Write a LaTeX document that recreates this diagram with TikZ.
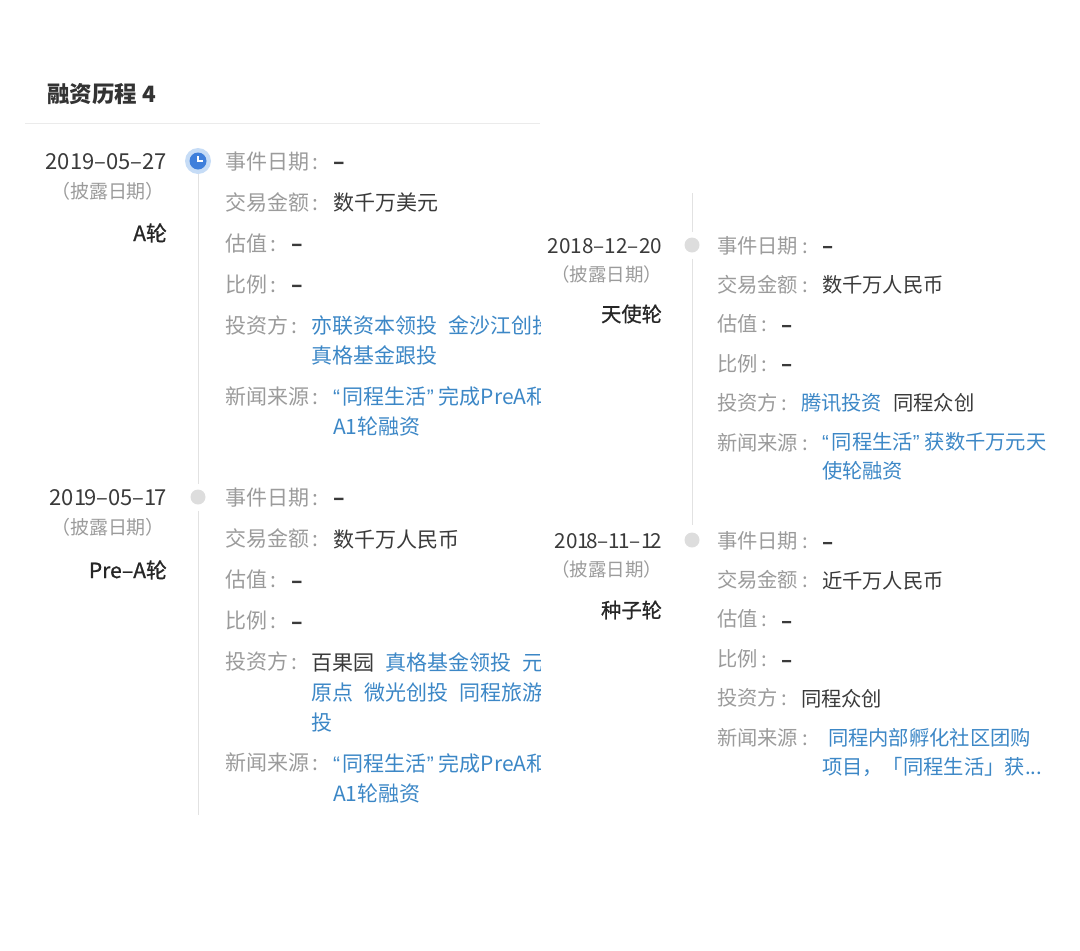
\documentclass[tikz,border=0pt]{standalone}
\usepackage{fontspec}
\setmainfont{Noto Sans CJK SC}
\newfontfamily\medfont[FakeBold=0.8]{Noto Sans CJK SC}
\newfontfamily\quotefont{Liberation Sans}
\usetikzlibrary{positioning}
\definecolor{keygray}{HTML}{9B9B9B}
\definecolor{valdark}{HTML}{3A3A3A}
\definecolor{linkblue}{HTML}{3C87C6}
\definecolor{railgray}{HTML}{E2E2E2}
\definecolor{dotgray}{HTML}{DDDDDD}
\definecolor{clockblue}{HTML}{3F7FDB}
\definecolor{haloblue}{HTML}{C6DCF6}
\newcommand{\qopen}{{\quotefont “}\kern3pt}
\newcommand{\qclose}{{\quotefont ”}\kern5pt}
\newcommand{\kcolon}{\kern4pt:}
\newcommand{\nodash}{{\bfseries –}}

\begin{document}
\begin{tikzpicture}[
    x=1pt, y=-1pt,
    every node/.style={inner sep=0pt, outer sep=0pt},
    rowtext/.style={anchor=west, text height=18.5pt, text depth=2.5pt},
    under/.style={below=#1, anchor=north west},
    lsize/.style={font=\fontsize{21}{21}\selectfont},
    rsize/.style={font=\fontsize{20.3}{20.3}\selectfont},
    keytext/.style={rowtext, text=keygray},
    valtext/.style={rowtext, text=valdark},
    linktext/.style={rowtext, text=linkblue},
    datetext/.style={anchor=east, text=valdark, text height=18pt, text depth=2pt},
    subtext/.style={anchor=east, text=keygray},
    roundtext/.style={anchor=east, text=black!85},
    greydot/.style={circle, fill=dotgray, minimum size=15pt},
    rail/.style={draw=railgray, line width=1pt}
]
    \useasboundingbox (0,0) rectangle (1080,951);

    % Heading
    \node[anchor=west, font=\fontsize{22.5}{22.5}\selectfont\bfseries, text=black!80] (title) at (47,94) {融资历程 4};
    \coordinate (ruleL) at (25,123);
    \coordinate (ruleR) at (540,123);
    \draw[draw=black!8, line width=1pt] (ruleL) -- (ruleR);

    % Left column, cut off at the panel edge
    \begin{scope}
    \clip (0,0) rectangle (540,951);

    % Timeline dots
    \node[circle, fill=haloblue, minimum size=26pt] (dotA) at (198,161) {};
    \node[circle, fill=clockblue, minimum size=17pt] (clockA) at (dotA.center) {};
    \node[greydot] (dotB) at (198,497) {};
    \coordinate (railEndB) at (198,815);
    \draw[rail, shorten >=6pt] (dotA) -- (dotB);
    \draw[rail, shorten <=6pt] (dotB) -- (railEndB);
    \draw[white, line width=1.3pt] (198,156) -- (198,161) -- (203,161);

    % A round
    \node[datetext, font=\fontsize{22}{22}\selectfont, left=31pt of dotA.center] (dateA) {2019–05–27};
    \node[subtext, font=\fontsize{19}{19}\selectfont] (subA) at (165,191) {（披露日期）};
    \node[roundtext, lsize] (roundA) at (167,233) {\medfont A轮};

    \node[keytext, lsize, right=27pt of dotA.center] (keyA1) {事件日期\kcolon};
    \node[keytext, lsize, under=20pt of keyA1.south west] (keyA2) {交易金额\kcolon};
    \node[keytext, lsize, under=20pt of keyA2.south west] (keyA3) {估值\kcolon};
    \node[keytext, lsize, under=20pt of keyA3.south west] (keyA4) {比例\kcolon};
    \node[keytext, lsize, under=20pt of keyA4.south west] (keyA5) {投资方\kcolon};
    \node[keytext, lsize, under=50pt of keyA5.south west] (keyA6) {新闻来源\kcolon};

    \node[valtext, lsize] (valA1) at (333,161) {\nodash};
    \node[valtext, lsize] (valA2) at (333,202) {数千万美元};
    \node[valtext, lsize] (valA3) at (291,243) {\nodash};
    \node[valtext, lsize] (valA4) at (291,284) {\nodash};
    \node[linktext, lsize] (valA5) at (311,325) {亦联资本领投};
    \node[linktext, lsize, right=11pt of valA5] (valA5b) {金沙江创投};
    \node[linktext, lsize, under=9pt of valA5.south west] (valA5c) {真格基金跟投};
    \node[linktext, lsize] (valA6) at (333,396) {\qopen 同程生活\qclose 完成PreA和};
    \node[linktext, lsize, under=9pt of valA6.south west] (valA6b) {A1轮融资};

    % Pre-A round
    \node[datetext, font=\fontsize{22}{22}\selectfont, left=31pt of dotB.center] (dateB) {20\kern0pt 1\kern-2pt 9–05–1\kern-2pt 7};
    \node[subtext, font=\fontsize{19}{19}\selectfont] (subB) at (165,527) {（披露日期）};
    \node[roundtext, lsize] (roundB) at (167,570) {\medfont Pre–A轮};

    \node[keytext, lsize, right=27pt of dotB.center] (keyB1) {事件日期\kcolon};
    \node[keytext, lsize, under=20pt of keyB1.south west] (keyB2) {交易金额\kcolon};
    \node[keytext, lsize, under=20pt of keyB2.south west] (keyB3) {估值\kcolon};
    \node[keytext, lsize, under=20pt of keyB3.south west] (keyB4) {比例\kcolon};
    \node[keytext, lsize, under=20pt of keyB4.south west] (keyB5) {投资方\kcolon};
    \node[keytext, lsize, under=80pt of keyB5.south west] (keyB6) {新闻来源\kcolon};

    \node[valtext, lsize] (valB1) at (333,497) {\nodash};
    \node[valtext, lsize] (valB2) at (333,539) {数千万人民币};
    \node[valtext, lsize] (valB3) at (291,580) {\nodash};
    \node[valtext, lsize] (valB4) at (291,621) {\nodash};
    \node[valtext, lsize] (valB5) at (311,662) {百果园};
    \node[linktext, lsize, right=11pt of valB5] (valB5b) {真格基金领投};
    \node[linktext, lsize, right=11pt of valB5b] (valB5c) {元禾};
    \node[linktext, lsize, under=9pt of valB5.south west] (valB5d) {原点};
    \node[linktext, lsize, right=11pt of valB5d] (valB5e) {微光创投};
    \node[linktext, lsize, right=11pt of valB5e] (valB5f) {同程旅游跟};
    \node[linktext, lsize, under=9pt of valB5d.south west] (valB5g) {投};
    \node[linktext, lsize] (valB6) at (333,763) {\qopen 同程生活\qclose 完成PreA和};
    \node[linktext, lsize, under=9pt of valB6.south west] (valB6b) {A1轮融资};
    \end{scope}

    % Right column
    \coordinate (railTopC) at (692,193);
    \node[greydot] (dotC) at (692,245) {};
    \node[greydot] (dotD) at (692,540) {};
    \draw[rail, shorten >=6pt] (railTopC) -- (dotC);
    \draw[rail, shorten <=6pt, shorten >=8pt] (dotC) -- (dotD);

    % Angel round
    \node[datetext, font=\fontsize{20.7}{20.7}\selectfont, left=30pt of dotC.center] (dateC) {2018–12–20};
    \node[subtext, font=\fontsize{18.5}{18.5}\selectfont] (subC) at (662,274) {（披露日期）};
    \node[roundtext, rsize] (roundC) at (662,314) {\medfont 天使轮};

    \node[keytext, rsize, right=25pt of dotC.center] (keyC1) {事件日期\kcolon};
    \node[keytext, rsize, under=18.4pt of keyC1.south west] (keyC2) {交易金额\kcolon};
    \node[keytext, rsize, under=18.4pt of keyC2.south west] (keyC3) {估值\kcolon};
    \node[keytext, rsize, under=18.4pt of keyC3.south west] (keyC4) {比例\kcolon};
    \node[keytext, rsize, under=18.4pt of keyC4.south west] (keyC5) {投资方\kcolon};
    \node[keytext, rsize, under=18.4pt of keyC5.south west] (keyC6) {新闻来源\kcolon};

    \node[valtext, rsize] (valC1) at (822,245) {\nodash};
    \node[valtext, rsize] (valC2) at (822,284) {数千万人民币};
    \node[valtext, rsize] (valC3) at (781,324) {\nodash};
    \node[valtext, rsize] (valC4) at (781,363) {\nodash};
    \node[linktext, rsize] (valC5) at (801,402) {腾讯投资};
    \node[valtext, rsize, right=11pt of valC5] (valC5b) {同程众创};
    \node[linktext, rsize] (valC6) at (822,441) {\qopen 同程生活\qclose 获数千万元天};
    \node[linktext, rsize, under=8pt of valC6.south west] (valC6b) {使轮融资};

    % Seed round
    \node[datetext, font=\fontsize{20.7}{20.7}\selectfont, left=30pt of dotD.center] (dateD) {20\kern0pt 1\kern-3pt 8–1\kern-2pt 1–1\kern-2pt 2};
    \node[subtext, font=\fontsize{18.5}{18.5}\selectfont] (subD) at (662,569) {（披露日期）};
    \node[roundtext, rsize] (roundD) at (662,610) {\medfont 种子轮};

    \node[keytext, rsize, right=25pt of dotD.center] (keyD1) {事件日期\kcolon};
    \node[keytext, rsize, under=18.4pt of keyD1.south west] (keyD2) {交易金额\kcolon};
    \node[keytext, rsize, under=18.4pt of keyD2.south west] (keyD3) {估值\kcolon};
    \node[keytext, rsize, under=18.4pt of keyD3.south west] (keyD4) {比例\kcolon};
    \node[keytext, rsize, under=18.4pt of keyD4.south west] (keyD5) {投资方\kcolon};
    \node[keytext, rsize, under=18.4pt of keyD5.south west] (keyD6) {新闻来源\kcolon};

    \node[valtext, rsize] (valD1) at (822,541) {\nodash};
    \node[valtext, rsize] (valD2) at (822,580) {近千万人民币};
    \node[valtext, rsize] (valD3) at (781,620) {\nodash};
    \node[valtext, rsize] (valD4) at (781,659) {\nodash};
    \node[valtext, rsize] (valD5) at (801,698) {同程众创};
    \node[linktext, rsize] (valD6) at (828,737) {同程内部孵化社区团购};
    \node[linktext, rsize] (valD6b) at (822,766) {项目，「同程生活」获...};
\end{tikzpicture}
\end{document}
